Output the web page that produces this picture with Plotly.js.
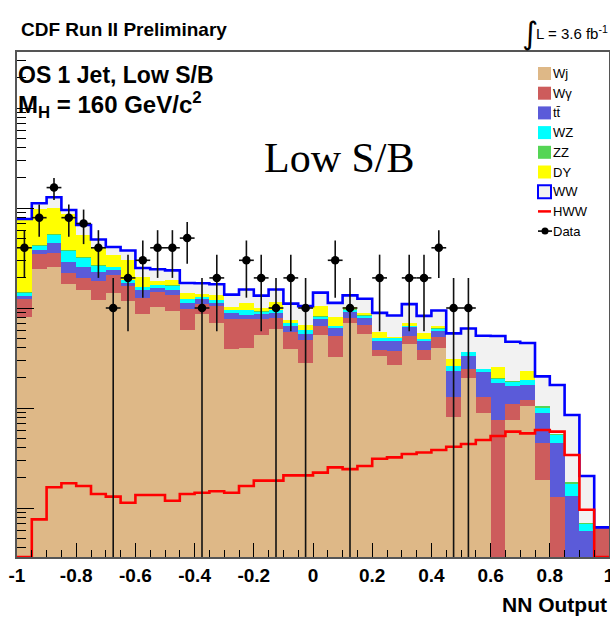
<!DOCTYPE html>
<html>
<head>
<meta charset="utf-8">
<script src="https://cdn.plot.ly/plotly-3.0.1.min.js"></script>
<style>
html,body{margin:0;padding:0;background:#fff;}
#chart{width:610px;height:617px;}
</style>
</head>
<body>
<div id="chart"></div>
<script>
// ---- binning (NN output, 40 bins of 0.05 from -1 to 1) ----
const binLow = -1;
const binWidth = 0.05;
const nBins = 40;

// ---- stacked backgrounds (events per bin), bottom to top ----
const wj = [0.82,2.44,2.55,1.74,1.51,1.20,1.40,1.18,0.87,1.02,0.94,0.60,0.87,0.70,0.39,0.40,0.54,0.61,0.39,0.28,
            0.54,0.32,0.70,0.55,0.33,0.27,0.44,0.30,0.40,0.082,0.20,0.090,0,0.076,0.105,0.019,0,0,0,0];
const wgamma = [0.42,1.03,1.00,0.49,0.48,0.66,0.74,0.49,0.38,0.44,0.40,0.38,0.23,0.35,0.39,0.38,0.24,0.18,0.19,0.20,
            0.12,0.20,0.10,0.13,0.05,0.10,0.08,0.08,0.11,0.048,0.045,0.038,0.076,0.034,0.015,0.026,0.0128,0,0,0.0063];
const ttbar = [0.08,0.34,0.89,0.68,0.56,0.43,0.26,0.11,0.26,0.12,0.17,0.14,0.12,0.07,0.11,0.08,0.09,0.10,0.08,0.07,
            0.11,0.11,0.11,0.11,0.09,0.10,0.12,0.09,0.08,0.106,0.083,0.101,0.101,0.056,0.05,0.045,0.0316,0.0132,0.0059,0];
const wz = [0.08,0.37,0.93,0.81,0.59,0.34,0.15,0.11,0.11,0.11,0.15,0.10,0.06,0.07,0.06,0.09,0.05,0.06,0.04,0.05,
            0.05,0.03,0.05,0.05,0.03,0.03,0.02,0.02,0.03,0.025,0.032,0.016,0.019,0.017,0.021,0.011,0.0093,0.0042,0.0010,0];
const zz = [0.03,0.07,0.13,0.09,0.12,0.06,0.05,0.03,0.02,0.02,0.02,0.01,0.01,0.01,0.01,0.01,0.01,0.01,0.005,0.005,
            0.006,0.004,0.007,0.006,0.004,0.004,0.004,0.004,0.004,0.002,0.002,0.001,0.002,0.002,0.001,0.003,0.0013,0.0008,0.0001,0];
const dy = [6.16,5.47,4.44,4.91,2.11,1.38,0.79,1.12,0.39,0.16,0.23,0.18,0.09,0.16,0.07,0.17,0.07,0.20,0.06,0.07,
            0.22,0.14,0.06,0.05,0.07,0.006,0.05,0.07,0.03,0.044,0.002,0.001,0.057,0,0.044,0,0,0,0,0];
const ww = [0.18,1.43,2.86,0.84,1.39,0.77,0.69,0.72,0.48,0.57,0.47,0.37,0.39,0.37,0.33,0.40,0.33,0.37,0.34,0.37,
            0.38,0.32,0.31,0.34,0.32,0.33,0.38,0.27,0.29,0.25,0.26,0.28,0.27,0.275,0.21,0.103,0.115,0.067,0.0139,0.0001];

// ---- signal (not stacked) ----
const hww = [0,0.0077,0.0161,0.0177,0.0166,0.0138,0.0130,0.0113,0.0135,0.0135,0.0118,0.0138,0.0142,0.0147,0.0142,0.0166,0.0188,0.0188,0.0212,0.0212,
             0.0226,0.0255,0.0245,0.0263,0.0311,0.0321,0.0347,0.0359,0.0380,0.0410,0.0437,0.0479,0.0525,0.0580,0.0558,0.0603,0.0580,0.0339,0.0096,0];

// ---- observed data (events) ----
const dataCounts = [4,8,16,8,7,4,1,2,3,4,4,5,1,2,0,3,2,1,2,1,0,3,1,0,2,0,2,2,4,1,1,0,0,0,0,0,0,0,0,0];

// ---- names / colours / ticks ----
const bkgNames  = ['Wj','Wγ','tt\u0304','WZ','ZZ','DY','WW'];
const bkgColors = ['#DEB887','#CD5C5C','#5B5BD9','#00FFFF','#55D555','#FFFF00','#F2F2F2'];
const xTickVals = [-1,-0.8,-0.6,-0.4,-0.2,0,0.2,0.4,0.6,0.8,1];
const xTickText = ['-1','-0.8','-0.6','-0.4','-0.2','0','0.2','0.4','0.6','0.8','1'];
const yLogRange = [-2.49, 2.56];

// ---------------------------------------------------------------
const centers = [], edges = [];
for (let i = 0; i < nBins; i++) centers.push(binLow + (i + 0.5) * binWidth);
for (let i = 0; i <= nBins; i++) edges.push(binLow + i * binWidth);

const stacks = [wj, wgamma, ttbar, wz, zz, dy, ww];
const traces = [];
stacks.forEach((s, k) => {
  traces.push({
    type: 'bar', x: centers, y: s, width: binWidth,
    name: bkgNames[k], showlegend: false,
    marker: {color: bkgColors[k], line: {width: 0}},
    hoverinfo: 'skip'
  });
});

// total outline (WW drawn on top of the stack)
const total = centers.map((_, i) => stacks.reduce((a, s) => a + s[i], 0));
traces.push({
  type: 'scatter', mode: 'lines', x: edges, y: total.concat([total[nBins - 1]]),
  line: {color: '#0000FF', width: 2.6, shape: 'hv'}, showlegend: false, hoverinfo: 'skip'
});

// HWW signal line; empty bins drawn on the frame bottom
const floorVal = Math.pow(10, yLogRange[0]);
const hwwDraw = hww.map(v => v > 0 ? v : floorVal);
traces.push({
  type: 'scatter', mode: 'lines', x: edges, y: hwwDraw.concat([hwwDraw[nBins - 1]]),
  line: {color: '#FF0000', width: 2.6, shape: 'hv'}, showlegend: false, hoverinfo: 'skip',
  cliponaxis: false
});

// data points with Poisson errors
const dataY = dataCounts.map(n => n > 0 ? n : null);
const errs = dataCounts.map(n => Math.sqrt(n));
traces.push({
  type: 'scatter', mode: 'markers', x: centers, y: dataY,
  marker: {color: '#000', size: 8.5},
  error_y: {type: 'data', array: errs, arrayminus: errs, width: 0, thickness: 1.6, color: '#111'},
  error_x: {type: 'constant', value: binWidth / 2, width: 0, thickness: 1.6, color: '#111'},
  showlegend: false, hoverinfo: 'skip'
});

// ---- layout helpers (pixel -> paper) ----
const M = {l: 17, r: 1, t: 52, b: 60};
const PW = 610 - M.l - M.r, PH = 617 - M.t - M.b;
const px = p => (p - M.l) / PW;
const py = p => 1 - (p - M.t) / PH;

const sans = 'Liberation Sans, Arial, sans-serif';
function ann(text, x, y, xanchor, font) {
  return {text: text, x: px(x), y: py(y), xref: 'paper', yref: 'paper', showarrow: false,
          xanchor: xanchor, yanchor: 'middle', font: font};
}
const annotations = [
  ann('CDF Run II Preliminary', 19, 30, 'left', {family: sans, size: 19, weight: 'bold', color: '#000'}),
  ann('\u222B', 530, 33, 'center', {family: 'DejaVu Sans, sans-serif', size: 31, color: '#000'}),
  ann('L = 3.6 fb<sup>-1</sup>', 534, 33, 'left', {family: sans, size: 15, color: '#000'}),
  ann('OS 1 Jet, Low S/B', 16, 75, 'left', {family: sans, size: 23, weight: 'bold', color: '#000'}),
  ann('M<sub>H</sub> = 160 GeV/c<sup>2</sup>', 16, 105, 'left', {family: sans, size: 24, weight: 'bold', color: '#000'}),
  ann('Low S/B', 262, 158, 'left', {family: 'Liberation Serif, Times New Roman, serif', size: 42, color: '#000'}),
  ann('NN Output', 609, 604, 'right', {family: sans, size: 21, weight: 'bold', color: '#000'})
];
const shapes = [];

// manual legend
const legNames = bkgNames.concat(['HWW', 'Data']);
const legTop = 73.5, legStep = 19.7, swL = 538, swR = 551, txtX = 551;
legNames.forEach((nm, i) => {
  const cy = legTop + i * legStep;
  annotations.push(ann(nm, txtX, cy, 'left', {family: sans, size: 13, color: '#000'}));
  if (i < bkgNames.length) {
    const isWW = nm === 'WW';
    shapes.push({type: 'rect', xref: 'paper', yref: 'paper',
      x0: px(swL), x1: px(swR), y0: py(cy - 6.5), y1: py(cy + 6.5),
      fillcolor: bkgColors[i], line: {width: isWW ? 2 : 0, color: '#0000FF'}});
  } else if (nm === 'HWW') {
    shapes.push({type: 'line', xref: 'paper', yref: 'paper', x0: px(swL), x1: px(swR), y0: py(cy), y1: py(cy),
      line: {color: '#FF0000', width: 2.5}});
  } else {
    shapes.push({type: 'line', xref: 'paper', yref: 'paper', x0: px(swL), x1: px(swR + 1), y0: py(cy), y1: py(cy),
      line: {color: '#000', width: 1.6}});
    shapes.push({type: 'circle', xref: 'paper', yref: 'paper', x0: px(541.5), x1: px(548.5), y0: py(cy - 3.5), y1: py(cy + 3.5),
      fillcolor: '#000', line: {width: 0}});
  }
});

const layout = {
  width: 610, height: 617, margin: M,
  paper_bgcolor: '#fff', plot_bgcolor: '#fff',
  barmode: 'stack', bargap: 0, showlegend: false,
  xaxis: {
    range: [-1, 1], tickvals: xTickVals, ticktext: xTickText,
    ticks: 'inside', ticklen: 14, tickwidth: 1, tickcolor: '#000',
    minor: {ticks: 'inside', ticklen: 7, tickwidth: 1, tickcolor: '#000', dtick: binWidth, tick0: binLow, showgrid: false},
    showgrid: false, zeroline: false, showline: true, linecolor: '#555', linewidth: 2, mirror: true,
    ticklabeloverflow: 'allow',
    tickfont: {family: sans, size: 19, weight: 'bold', color: '#000'}
  },
  yaxis: {
    type: 'log', range: yLogRange, dtick: 1,
    ticks: 'inside', ticklen: 17, tickwidth: 1, tickcolor: '#000',
    minor: {ticks: 'inside', ticklen: 9, tickwidth: 1, tickcolor: '#000', dtick: 'D1', showgrid: false},
    showticklabels: false, showgrid: false, zeroline: false,
    showline: true, linecolor: '#555', linewidth: 2, mirror: true
  },
  annotations: annotations, shapes: shapes
};

Plotly.newPlot('chart', traces, layout, {displayModeBar: false, staticPlot: true});
</script>
</body>
</html>
